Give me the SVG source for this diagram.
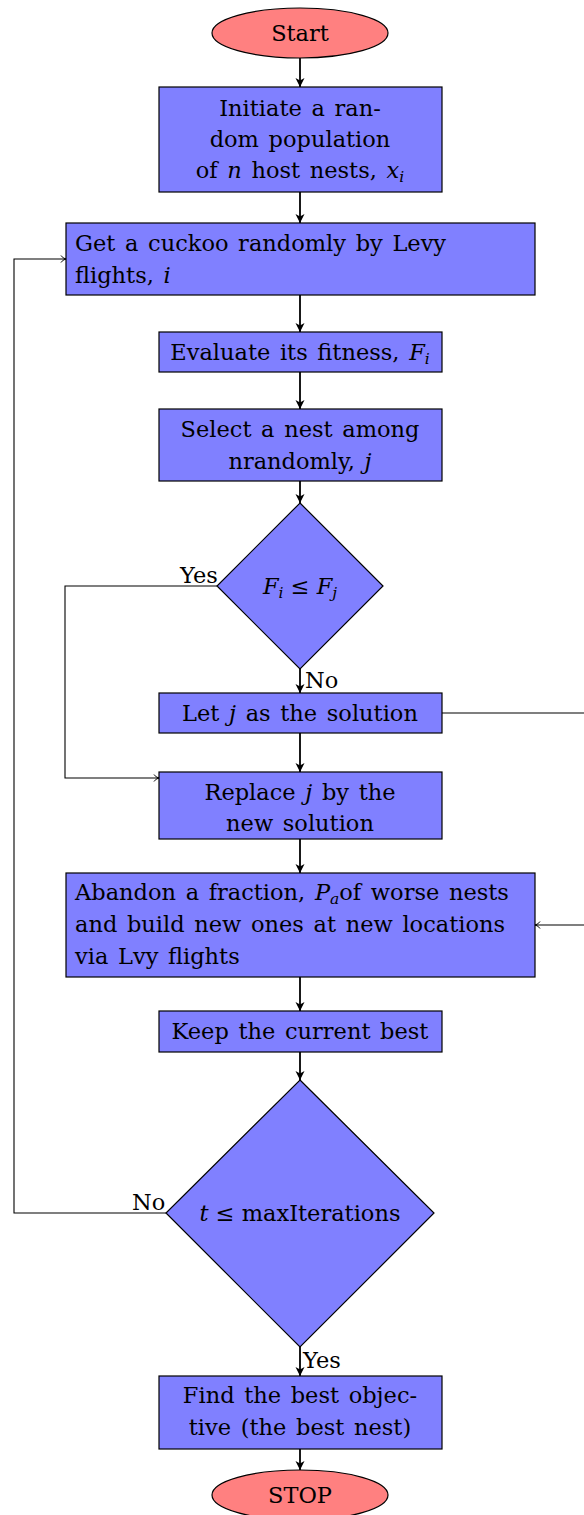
<svg xmlns="http://www.w3.org/2000/svg" width="584" height="1515" viewBox="0 0 584 1515">
<style>
.box{fill:#8080ff;stroke:#000;stroke-width:1.2}
.term{fill:#ff8080;stroke:#000;stroke-width:1.2}
text{font-family:"DejaVu Serif","Liberation Serif",serif;font-size:22.5px;word-spacing:2.5px;fill:#000}
.c{text-anchor:middle}
.m{word-spacing:0}
.i{font-style:italic}
.s{font-style:italic;font-size:15.5px}
.main{fill:none;stroke:#000;stroke-width:1.8;marker-end:url(#ah)}
.thin{fill:none;stroke:#000;stroke-width:1.1;marker-end:url(#to)}
</style>
<defs>
<marker id="ah" markerWidth="12" markerHeight="12" refX="10" refY="6" orient="auto" markerUnits="userSpaceOnUse">
<path d="M1,1.5 L10,6 L1,10.5 L3.5,6 Z" fill="#000"/>
</marker>
<marker id="to" markerWidth="10" markerHeight="10" refX="8" refY="5" orient="auto" markerUnits="userSpaceOnUse">
<path d="M3,1.5 Q5,4.5 8,5 Q5,5.5 3,8.5" fill="none" stroke="#000" stroke-width="1"/>
</marker>
</defs>
<g id="connectors">
<path class="main" d="M300,58 V87"/>
<path class="main" d="M300,192 V223"/>
<path class="main" d="M300,295 V332"/>
<path class="main" d="M300,372 V409"/>
<path class="main" d="M300,481 V503"/>
<path class="main" d="M300,669 V693"/>
<path class="main" d="M300,733 V772"/>
<path class="main" d="M300,839 V873"/>
<path class="main" d="M300,977 V1011"/>
<path class="main" d="M300,1052 V1080"/>
<path class="main" d="M300,1347 V1376"/>
<path class="main" d="M300,1449 V1470"/>
<path class="thin" d="M217,586 H65 V778 H159"/>
<path class="thin" d="M442,713 H620 V925 H535"/>
<path class="thin" d="M166,1213 H14 V259 H66"/>
<text x="180" y="583">Yes</text>
<text x="305" y="688">No</text>
<text x="132" y="1210">No</text>
<text x="303" y="1368">Yes</text>
</g>
<g id="start">
<ellipse class="term" cx="300" cy="33" rx="88" ry="25"/>
<text class="c" x="300" y="41">Start</text>
</g>
<g id="init">
<rect class="box" x="159" y="87" width="283" height="105"/>
<text class="c" x="300" y="116">Initiate a ran-</text>
<text class="c" x="300" y="147">dom population</text>
<text class="c" x="300" y="178">of <tspan class="i">n</tspan> host nests, <tspan class="i">x</tspan><tspan class="s" dy="4">i</tspan></text>
</g>
<g id="getcuckoo">
<rect class="box" x="66" y="223" width="469" height="72"/>
<text x="75" y="251">Get a cuckoo randomly by Levy</text>
<text x="75" y="283">flights, <tspan class="i">i</tspan></text>
</g>
<g id="evaluate">
<rect class="box" x="159" y="332" width="283" height="40"/>
<text class="c" x="300" y="360">Evaluate its fitness, <tspan class="i">F</tspan><tspan class="s" dy="4">i</tspan></text>
</g>
<g id="select">
<rect class="box" x="159" y="409" width="283" height="72"/>
<text class="c" x="300" y="437">Select a nest among</text>
<text class="c" x="300" y="469">nrandomly, <tspan class="i">j</tspan></text>
</g>
<g id="decision1">
<polygon class="box" points="300,503 383,586 300,669 217,586"/>
<text class="c m" x="300" y="594"><tspan class="i">F</tspan><tspan class="s" dy="4">i</tspan><tspan dy="-4"> ≤ </tspan><tspan class="i">F</tspan><tspan class="s" dy="4">j</tspan></text>
</g>
<g id="letj">
<rect class="box" x="159" y="693" width="283" height="40"/>
<text class="c" x="300" y="721">Let <tspan class="i">j</tspan> as the solution</text>
</g>
<g id="replace">
<rect class="box" x="159" y="772" width="283" height="67"/>
<text class="c" x="300" y="800">Replace <tspan class="i">j</tspan> by the</text>
<text class="c" x="300" y="831">new solution</text>
</g>
<g id="abandon">
<rect class="box" x="66" y="873" width="469" height="104"/>
<text x="75" y="900">Abandon a fraction, <tspan class="i">P</tspan><tspan class="s" dy="4">a</tspan><tspan dy="-4">of worse nests</tspan></text>
<text x="75" y="932">and build new ones at new locations</text>
<text x="75" y="964">via Lvy flights</text>
</g>
<g id="keep">
<rect class="box" x="159" y="1011" width="283" height="41"/>
<text class="c" x="300" y="1039">Keep the current best</text>
</g>
<g id="decision2">
<polygon class="box" points="300,1080 434,1213 300,1347 166,1213"/>
<text class="c m" x="300" y="1221"><tspan class="i">t</tspan> ≤ maxIterations</text>
</g>
<g id="findbest">
<rect class="box" x="159" y="1376" width="283" height="73"/>
<text class="c" x="300" y="1403">Find the best objec-</text>
<text class="c" x="300" y="1435">tive (the best nest)</text>
</g>
<g id="stop">
<ellipse class="term" cx="300" cy="1495" rx="88" ry="25"/>
<text class="c" x="300" y="1503">STOP</text>
</g>
</svg>
